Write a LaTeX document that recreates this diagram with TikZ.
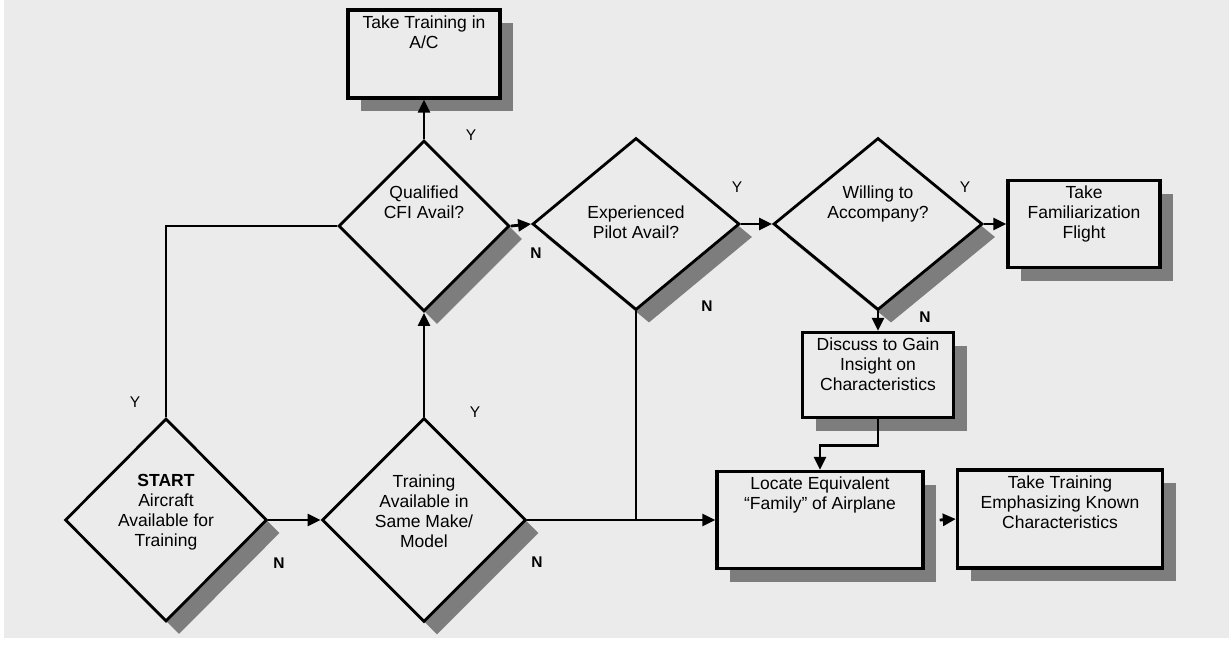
\documentclass[tikz,border=0pt]{standalone}
\usepackage{fontspec}
\setmainfont{Liberation Sans}
\usetikzlibrary{arrows.meta,shapes.geometric,shadows,calc}
\definecolor{paper}{RGB}{235,235,235}
\definecolor{shade}{RGB}{125,125,125}
\begin{document}
\begin{tikzpicture}[x=1pt,y=-1pt,
  dia/.style={diamond, draw=black, line width=2.8pt, fill=paper, inner sep=0pt,
    drop shadow={shadow xshift=13pt, shadow yshift=-13pt, fill=shade, opacity=1}},
  bx/.style={rectangle, draw=black, line width=3.4pt, fill=paper, inner sep=0pt,
    drop shadow={shadow xshift=13pt, shadow yshift=-13pt, fill=shade, opacity=1}},
  txt/.style={font=\fontsize{17.5}{20}\selectfont, align=center, inner sep=0pt, anchor=north},
  lbly/.style={font=\fontsize{15.5}{15.5}\selectfont, inner sep=0pt},
  lbln/.style={font=\fontsize{15.5}{15.5}\selectfont\bfseries, inner sep=0pt},
  conn/.style={line width=2.8pt},
  arr/.style={line width=2.8pt, -{Triangle[length=13pt,width=12pt]}}]
\useasboundingbox (0,0) rectangle (1232,645);
\fill[white] (0,0) rectangle (1232,645);
\fill[paper] (4,0) rectangle (1229,638);

% decision diamonds
\node[dia, minimum width=202pt, minimum height=203pt] (start) at (166,520) {};
\node[dia, minimum width=204pt, minimum height=204pt] (train) at (424,520) {};
\node[dia, minimum width=171pt, minimum height=171pt] (cfi) at (424,226) {};
\node[dia, minimum width=207pt, minimum height=172pt] (pilot) at (636,224) {};
\node[dia, minimum width=209pt, minimum height=172pt] (will) at (878,224) {};

% process boxes
\node[bx, minimum width=152pt, minimum height=88pt] (ac) at (424,54) {};
\node[bx, minimum width=152pt, minimum height=87pt] (fam) at (1084,224) {};
\node[bx, minimum width=151pt, minimum height=85pt] (disc) at (878,375) {};
\node[bx, minimum width=206pt, minimum height=97pt] (loc) at (820,520) {};
\node[bx, minimum width=205pt, minimum height=98pt] (emph) at (1060,519) {};

% texts
\node[txt] (tstart) at ($(start.center)+(0,-45.5)$) {{\bfseries START}\\Aircraft\\Available for\\Training};
\node[txt] (ttrain) at ($(train.center)+(0,-45.5)$) {Training\\Available in\\Same Make/\\Model};
\node[txt] (tcfi) at ($(cfi.center)+(0,-40.5)$) {Qualified\\CFI Avail?};
\node[txt] (tpilot) at ($(pilot.center)+(0,-18.5)$) {Experienced\\Pilot Avail?};
\node[txt] (twill) at ($(will.center)+(0,-38.5)$) {Willing to\\Accompany?};
\node[txt] (tac) at ($(ac.north)+(0,7)$) {Take Training in\\A/C};
\node[txt] (tfam) at ($(fam.north)+(0,7)$) {Take\\Familiarization\\Flight};
\node[txt] (tdisc) at ($(disc.north)+(0,7)$) {Discuss to Gain\\Insight on\\Characteristics};
\node[txt] (tloc) at ($(loc.north)+(0,7)$) {Locate Equivalent\\“Family” of Airplane};
\node[txt] (temph) at ($(emph.north)+(0,7.5)$) {Take Training\\Emphasizing Known\\Characteristics};

% connectors
\draw[arr] (start.east) -- (train.west);
\draw[conn] (start.north) |- (cfi.west);
\draw[arr] (train.north) -- (cfi.south);
\draw[arr] (cfi.north) -- (ac.south);
\draw[arr] (cfi.east) -- (pilot.west);
\draw[arr] (pilot.east) -- (will.west);
\draw[arr] (will.east) -- (fam.west);
\draw[arr] (will.south) -- (disc.north);
\draw[arr] (disc.south) -- ++(0,26) -| (loc.north);
\draw[arr] (train.east) -- (loc.west);
\draw[conn] (pilot.south) -- (pilot.south |- loc.west);
\draw[arr] ([xshift=15pt]loc.east) -- (emph.west);

% branch labels
\node[lbly] (ystart) at (135,402) {Y};
\node[lbln] (nstart) at (279,563) {N};
\node[lbly] (ytrain) at (475,412) {Y};
\node[lbln] (ntrain) at (537,562) {N};
\node[lbly] (ycfi) at (471,135) {Y};
\node[lbln] (ncfi) at (536,253) {N};
\node[lbly] (ypilot) at (737,187) {Y};
\node[lbln] (npilot) at (707,306) {N};
\node[lbly] (ywill) at (965,187) {Y};
\node[lbln] (nwill) at (925,317) {N};
\end{tikzpicture}
\end{document}
